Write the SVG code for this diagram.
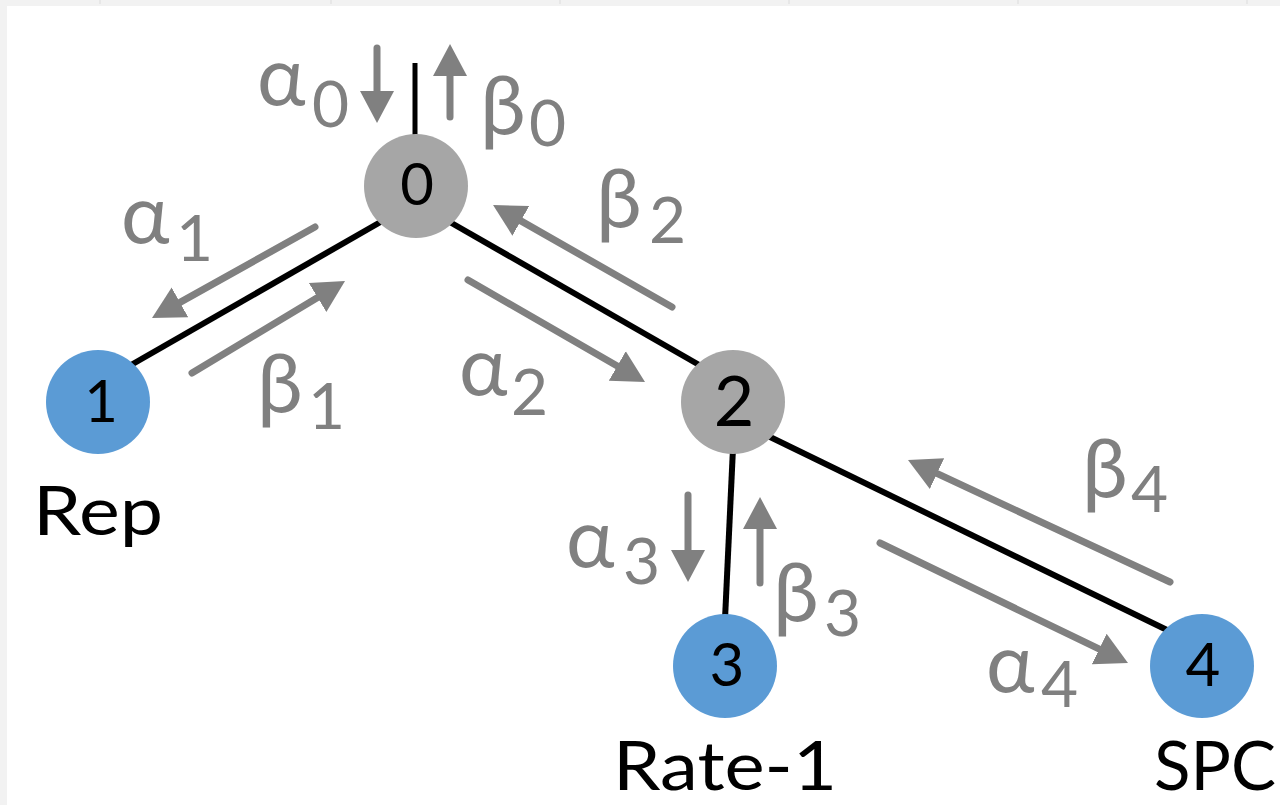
<svg xmlns="http://www.w3.org/2000/svg" width="1280" height="805" viewBox="0 0 1280 805">
<style>
.edge{stroke:#000;stroke-width:6;fill:none}
.arr{stroke:#808080;stroke-width:7;stroke-linecap:round;fill:none;marker-end:url(#ah)}
.gr{fill:#a6a6a6}
.bl{fill:#5b9bd5}
.nl{font-family:Lato,"Noto Sans","Liberation Sans",sans-serif;fill:#000;text-anchor:middle}
.gk{font-family:Lato,"Noto Sans","Liberation Sans",sans-serif;fill:#808080;font-size:82px}
.sb{font-size:64px}
.lb{font-family:Lato,"Noto Sans","Liberation Sans",sans-serif;fill:#000;font-size:68px}
</style>
<defs>
<marker id="ah" markerUnits="userSpaceOnUse" markerWidth="40" markerHeight="40" refX="2" refY="17" orient="auto" viewBox="0 0 40 34">
<path d="M0,0 L32,17 L0,34 z" fill="#808080"/>
</marker>
</defs>
<rect x="0" y="0" width="1280" height="805" fill="#fff"/>
<rect x="0" y="0" width="1280" height="6" fill="#f2f2f2"/>
<rect x="0" y="0" width="7" height="805" fill="#f2f2f2"/>
<g stroke="#dcdcdc" stroke-width="1">
<line x1="100" y1="0" x2="100" y2="4"/><line x1="331" y1="0" x2="331" y2="4"/><line x1="560" y1="0" x2="560" y2="4"/><line x1="789" y1="0" x2="789" y2="4"/><line x1="1018" y1="0" x2="1018" y2="4"/><line x1="1247" y1="0" x2="1247" y2="4"/>
</g>
<g id="connectors">
<line class="edge" x1="415" y1="63" x2="415" y2="140" style="stroke-width:5"/>
<line class="edge" x1="384" y1="220" x2="131" y2="365"/>
<line class="edge" x1="448" y1="221" x2="701" y2="366"/>
<line class="edge" x1="733" y1="448" x2="725" y2="619"/>
<line class="edge" x1="766" y1="435" x2="1167" y2="630"/>
<line class="arr" x1="377" y1="48" x2="377" y2="93"/>
<line class="arr" x1="450" y1="117" x2="450" y2="74"/>
<line class="arr" x1="315" y1="227" x2="178.2" y2="303.4"/>
<line class="arr" x1="192" y1="373" x2="319.3" y2="296.5"/>
<line class="arr" x1="468" y1="280" x2="619" y2="367"/>
<line class="arr" x1="672" y1="307" x2="519.1" y2="219.9"/>
<line class="arr" x1="688" y1="495" x2="688" y2="552"/>
<line class="arr" x1="760" y1="583" x2="760" y2="527"/>
<line class="arr" x1="1170" y1="582" x2="935.2" y2="472.7"/>
<line class="arr" x1="880" y1="543" x2="1101" y2="649.9"/>
</g>
<g id="labels">
<text class="gk" x="257" y="105">α<tspan class="sb" x="312" y="127">0</tspan></text>
<text class="gk" x="480" y="134">β<tspan class="sb" x="529" y="146">0</tspan></text>
<text class="gk" x="121" y="243">α<tspan class="sb" x="176" y="261">1</tspan></text>
<text class="gk" x="257" y="412">β<tspan class="sb" x="308" y="429">1</tspan></text>
<text class="gk" x="596" y="227">β<tspan class="sb" x="649" y="243">2</tspan></text>
<text class="gk" x="459" y="395">α<tspan class="sb" x="511" y="415">2</tspan></text>
<text class="gk" x="566" y="567">α<tspan class="sb" x="623" y="584">3</tspan></text>
<text class="gk" x="773" y="621">β<tspan class="sb" x="824" y="636">3</tspan></text>
<text class="gk" x="1082" y="497">β<tspan class="sb" x="1131" y="512">4</tspan></text>
<text class="gk" x="986" y="692">α<tspan class="sb" x="1041" y="707">4</tspan></text>
</g>
<g id="node0"><circle class="gr" cx="416" cy="186" r="52"/><text class="nl" x="417" y="205" font-size="58">0</text></g>
<g id="node1"><circle class="bl" cx="98" cy="402" r="52"/><text class="nl" x="101" y="422" font-size="58">1</text><text class="lb" x="33" y="535" textLength="130" lengthAdjust="spacingAndGlyphs">Rep</text></g>
<g id="node2"><circle class="gr" cx="733" cy="402" r="52"/><text class="nl" x="734" y="426" font-size="70">2</text></g>
<g id="node3"><circle class="bl" cx="725" cy="666" r="52"/><text class="nl" x="727" y="686" font-size="60">3</text><text class="lb" x="613" y="790" textLength="224" lengthAdjust="spacingAndGlyphs">Rate-1</text></g>
<g id="node4"><circle class="bl" cx="1202" cy="666" r="52"/><text class="nl" x="1203" y="686" font-size="60">4</text><text class="lb" x="1154" y="790" textLength="122" lengthAdjust="spacingAndGlyphs">SPC</text></g>
</svg>
